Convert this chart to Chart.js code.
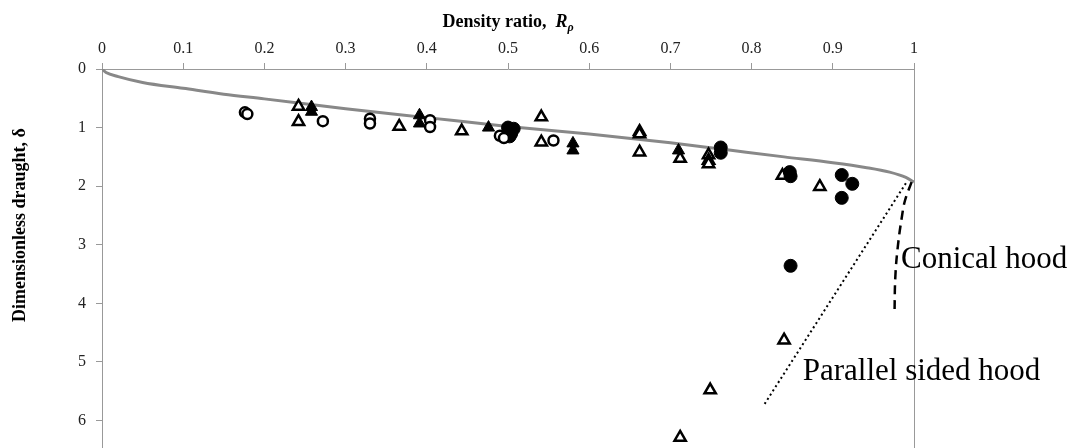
<!DOCTYPE html>
<html lang="en">
<head>
    <meta charset="UTF-8">
    <title>Dimensionless draught vs density ratio</title>
    <script src="https://cdn.jsdelivr.net/npm/chart.js"></script>
    <style>
        body {
            margin: 0;
            background: #ffffff;
            overflow: hidden;
        }
        #chartBox {
            width: 1082px;
            height: 448px;
        }
    </style>
</head>
<body>
    <div id="chartBox">
        <canvas id="draughtChart" width="1082" height="448"></canvas>
    </div>

    <script>
        // tick labels
        const xTicks = [0, 0.1, 0.2, 0.3, 0.4, 0.5, 0.6, 0.7, 0.8, 0.9, 1];
        const yTicks = [0, 1, 2, 3, 4, 5, 6];

        // theory curve (grey)
        const curveR = [0, 0.005, 0.02, 0.05, 0.1, 0.15, 0.2, 0.3, 0.4, 0.5, 0.6, 0.7, 0.77, 0.84, 0.9, 0.94, 0.97, 0.99, 1.0];
        const curveD = [0, 0.06, 0.13, 0.23, 0.33, 0.43, 0.51, 0.68, 0.83, 0.98, 1.11, 1.26, 1.38, 1.50, 1.60, 1.68, 1.76, 1.85, 1.93];

        // conical hood (dashed)
        const conicalR = [0.997, 0.989, 0.985, 0.980, 0.977, 0.976];
        const conicalD = [1.93, 2.24, 2.53, 3.04, 3.55, 4.17];

        // parallel sided hood (dotted)
        const parallelR = [0.99, 0.815];
        const parallelD = [1.95, 5.74];

        // measurements
        const openCircleR = [0.176, 0.179, 0.272, 0.33, 0.33, 0.404, 0.404, 0.49, 0.495, 0.556];
        const openCircleD = [0.74, 0.77, 0.89, 0.85, 0.93, 0.875, 0.99, 1.14, 1.18, 1.22];

        const filledCircleR = [0.500, 0.507, 0.504, 0.502, 0.762, 0.762, 0.847, 0.848, 0.911, 0.924, 0.911, 0.848];
        const filledCircleD = [1.00, 1.02, 1.10, 1.15, 1.34, 1.43, 1.76, 1.83, 1.81, 1.96, 2.20, 3.36];

        const filledTriR = [0.258, 0.258, 0.391, 0.391, 0.476, 0.58, 0.58, 0.71];
        const filledTriD = [0.65, 0.73, 0.79, 0.93, 1.00, 1.27, 1.39, 1.39];

        const openTriR = [0.242, 0.242, 0.366, 0.443, 0.541, 0.541, 0.662, 0.662, 0.662, 0.712, 0.747, 0.747, 0.747, 0.838, 0.884, 0.840, 0.749, 0.712];
        const openTriD = [0.64, 0.90, 0.98, 1.06, 0.82, 1.25, 1.07, 1.11, 1.42, 1.53, 1.47, 1.56, 1.62, 1.82, 2.01, 4.63, 5.48, 6.29];

        const hoodLabels = ['Conical hood', 'Parallel sided hood'];

        function pts(xs, ys) {
            return xs.map((x, i) => ({ x: x, y: ys[i] }));
        }

        const serif = "'Liberation Serif', 'Times New Roman', serif";

        // axis titles and curve labels
        const textPlugin = {
            id: 'texts',
            afterDraw(chart) {
                const ctx = chart.ctx;
                const xs = chart.scales.x;
                const ys = chart.scales.y;
                ctx.save();
                ctx.fillStyle = '#000';
                ctx.textBaseline = 'alphabetic';

                // top title with subscript
                const part1 = 'Density ratio,  ';
                ctx.font = 'bold 18px ' + serif;
                const w1 = ctx.measureText(part1).width;
                ctx.font = 'bold italic 18px ' + serif;
                const w2 = ctx.measureText('R').width;
                ctx.font = 'bold italic 12px ' + serif;
                const w3 = ctx.measureText('ρ').width;
                let tx = (chart.chartArea.left + chart.chartArea.right) / 2 - (w1 + w2 + w3) / 2;
                ctx.font = 'bold 18px ' + serif;
                ctx.textAlign = 'left';
                ctx.fillText(part1, tx, 27);
                ctx.font = 'bold italic 18px ' + serif;
                ctx.fillText('R', tx + w1, 27);
                ctx.font = 'bold italic 12px ' + serif;
                ctx.fillText('ρ', tx + w1 + w2, 31);

                // left title
                ctx.save();
                ctx.translate(25, 225);
                ctx.rotate(-Math.PI / 2);
                ctx.font = 'bold 18px ' + serif;
                ctx.textAlign = 'center';
                ctx.fillText('Dimensionless draught, δ', 0, 0);
                ctx.restore();

                // hood labels
                ctx.font = '31px ' + serif;
                ctx.textAlign = 'left';
                ctx.fillText(hoodLabels[0], xs.getPixelForValue(0.984), ys.getPixelForValue(3.40));
                ctx.fillText(hoodLabels[1], xs.getPixelForValue(0.863), ys.getPixelForValue(5.31));
                ctx.restore();
            }
        };

        const tickFont = { family: serif, size: 16 };

        new Chart(document.getElementById('draughtChart'), {
            type: 'scatter',
            data: {
                datasets: [
                    {
                        label: 'open circles',
                        data: pts(openCircleR, openCircleD),
                        pointStyle: 'circle',
                        pointRadius: 5,
                        backgroundColor: '#fff',
                        borderColor: '#000',
                        borderWidth: 2.5
                    },
                    {
                        label: 'filled circles',
                        data: pts(filledCircleR, filledCircleD),
                        pointStyle: 'circle',
                        pointRadius: 6.5,
                        backgroundColor: '#000',
                        borderColor: '#000',
                        borderWidth: 1
                    },
                    {
                        label: 'filled triangles',
                        data: pts(filledTriR, filledTriD),
                        pointStyle: 'triangle',
                        pointRadius: 7,
                        backgroundColor: '#000',
                        borderColor: '#000',
                        borderWidth: 1
                    },
                    {
                        label: 'open triangles',
                        data: pts(openTriR, openTriD),
                        pointStyle: 'triangle',
                        pointRadius: 6.5,
                        backgroundColor: '#fff',
                        borderColor: '#000',
                        borderWidth: 2.5
                    },
                    {
                        label: 'parallel sided hood',
                        data: pts(parallelR, parallelD),
                        showLine: true,
                        pointRadius: 0,
                        borderColor: '#000',
                        borderWidth: 2,
                        borderDash: [2, 3]
                    },
                    {
                        label: 'conical hood',
                        data: pts(conicalR, conicalD),
                        showLine: true,
                        tension: 0.4,
                        pointRadius: 0,
                        borderColor: '#000',
                        borderWidth: 2.5,
                        borderDash: [9, 6]
                    },
                    {
                        label: 'theory',
                        data: pts(curveR, curveD),
                        showLine: true,
                        cubicInterpolationMode: 'monotone',
                        pointRadius: 0,
                        borderColor: '#888',
                        borderWidth: 3
                    }
                ]
            },
            options: {
                responsive: false,
                animation: false,
                layout: { autoPadding: false, padding: { left: 0, right: 168, top: 0, bottom: 0 } },
                plugins: {
                    legend: { display: false },
                    tooltip: { enabled: false }
                },
                scales: {
                    x: {
                        type: 'linear',
                        position: 'top',
                        min: 0,
                        max: 1,
                        afterBuildTicks: s => { s.ticks = xTicks.map(v => ({ value: v })); },
                        afterFit: s => { s.height = 69; s.paddingLeft = 0; s.paddingRight = 0; },
                        ticks: {
                            font: tickFont,
                            color: '#222',
                            padding: 5,
                            maxRotation: 0,
                            callback: v => String(v)
                        },
                        grid: {
                            color: c => (c.tick && c.tick.value === 1 ? '#999' : 'rgba(0,0,0,0)'),
                            tickColor: '#999',
                            tickLength: 6
                        },
                        border: { color: '#999', width: 1 }
                    },
                    y: {
                        type: 'linear',
                        reverse: true,
                        min: 0,
                        max: 6.47,
                        afterBuildTicks: s => { s.ticks = yTicks.map(v => ({ value: v })); },
                        afterFit: s => { s.width = 102; s.paddingTop = 0; s.paddingBottom = 0; },
                        ticks: {
                            font: tickFont,
                            color: '#222',
                            padding: 10,
                            callback: v => String(v)
                        },
                        grid: {
                            color: 'rgba(0,0,0,0)',
                            tickColor: '#999',
                            tickLength: 6
                        },
                        border: { color: '#999', width: 1 }
                    }
                }
            },
            plugins: [textPlugin]
        });
    </script>
</body>
</html>
